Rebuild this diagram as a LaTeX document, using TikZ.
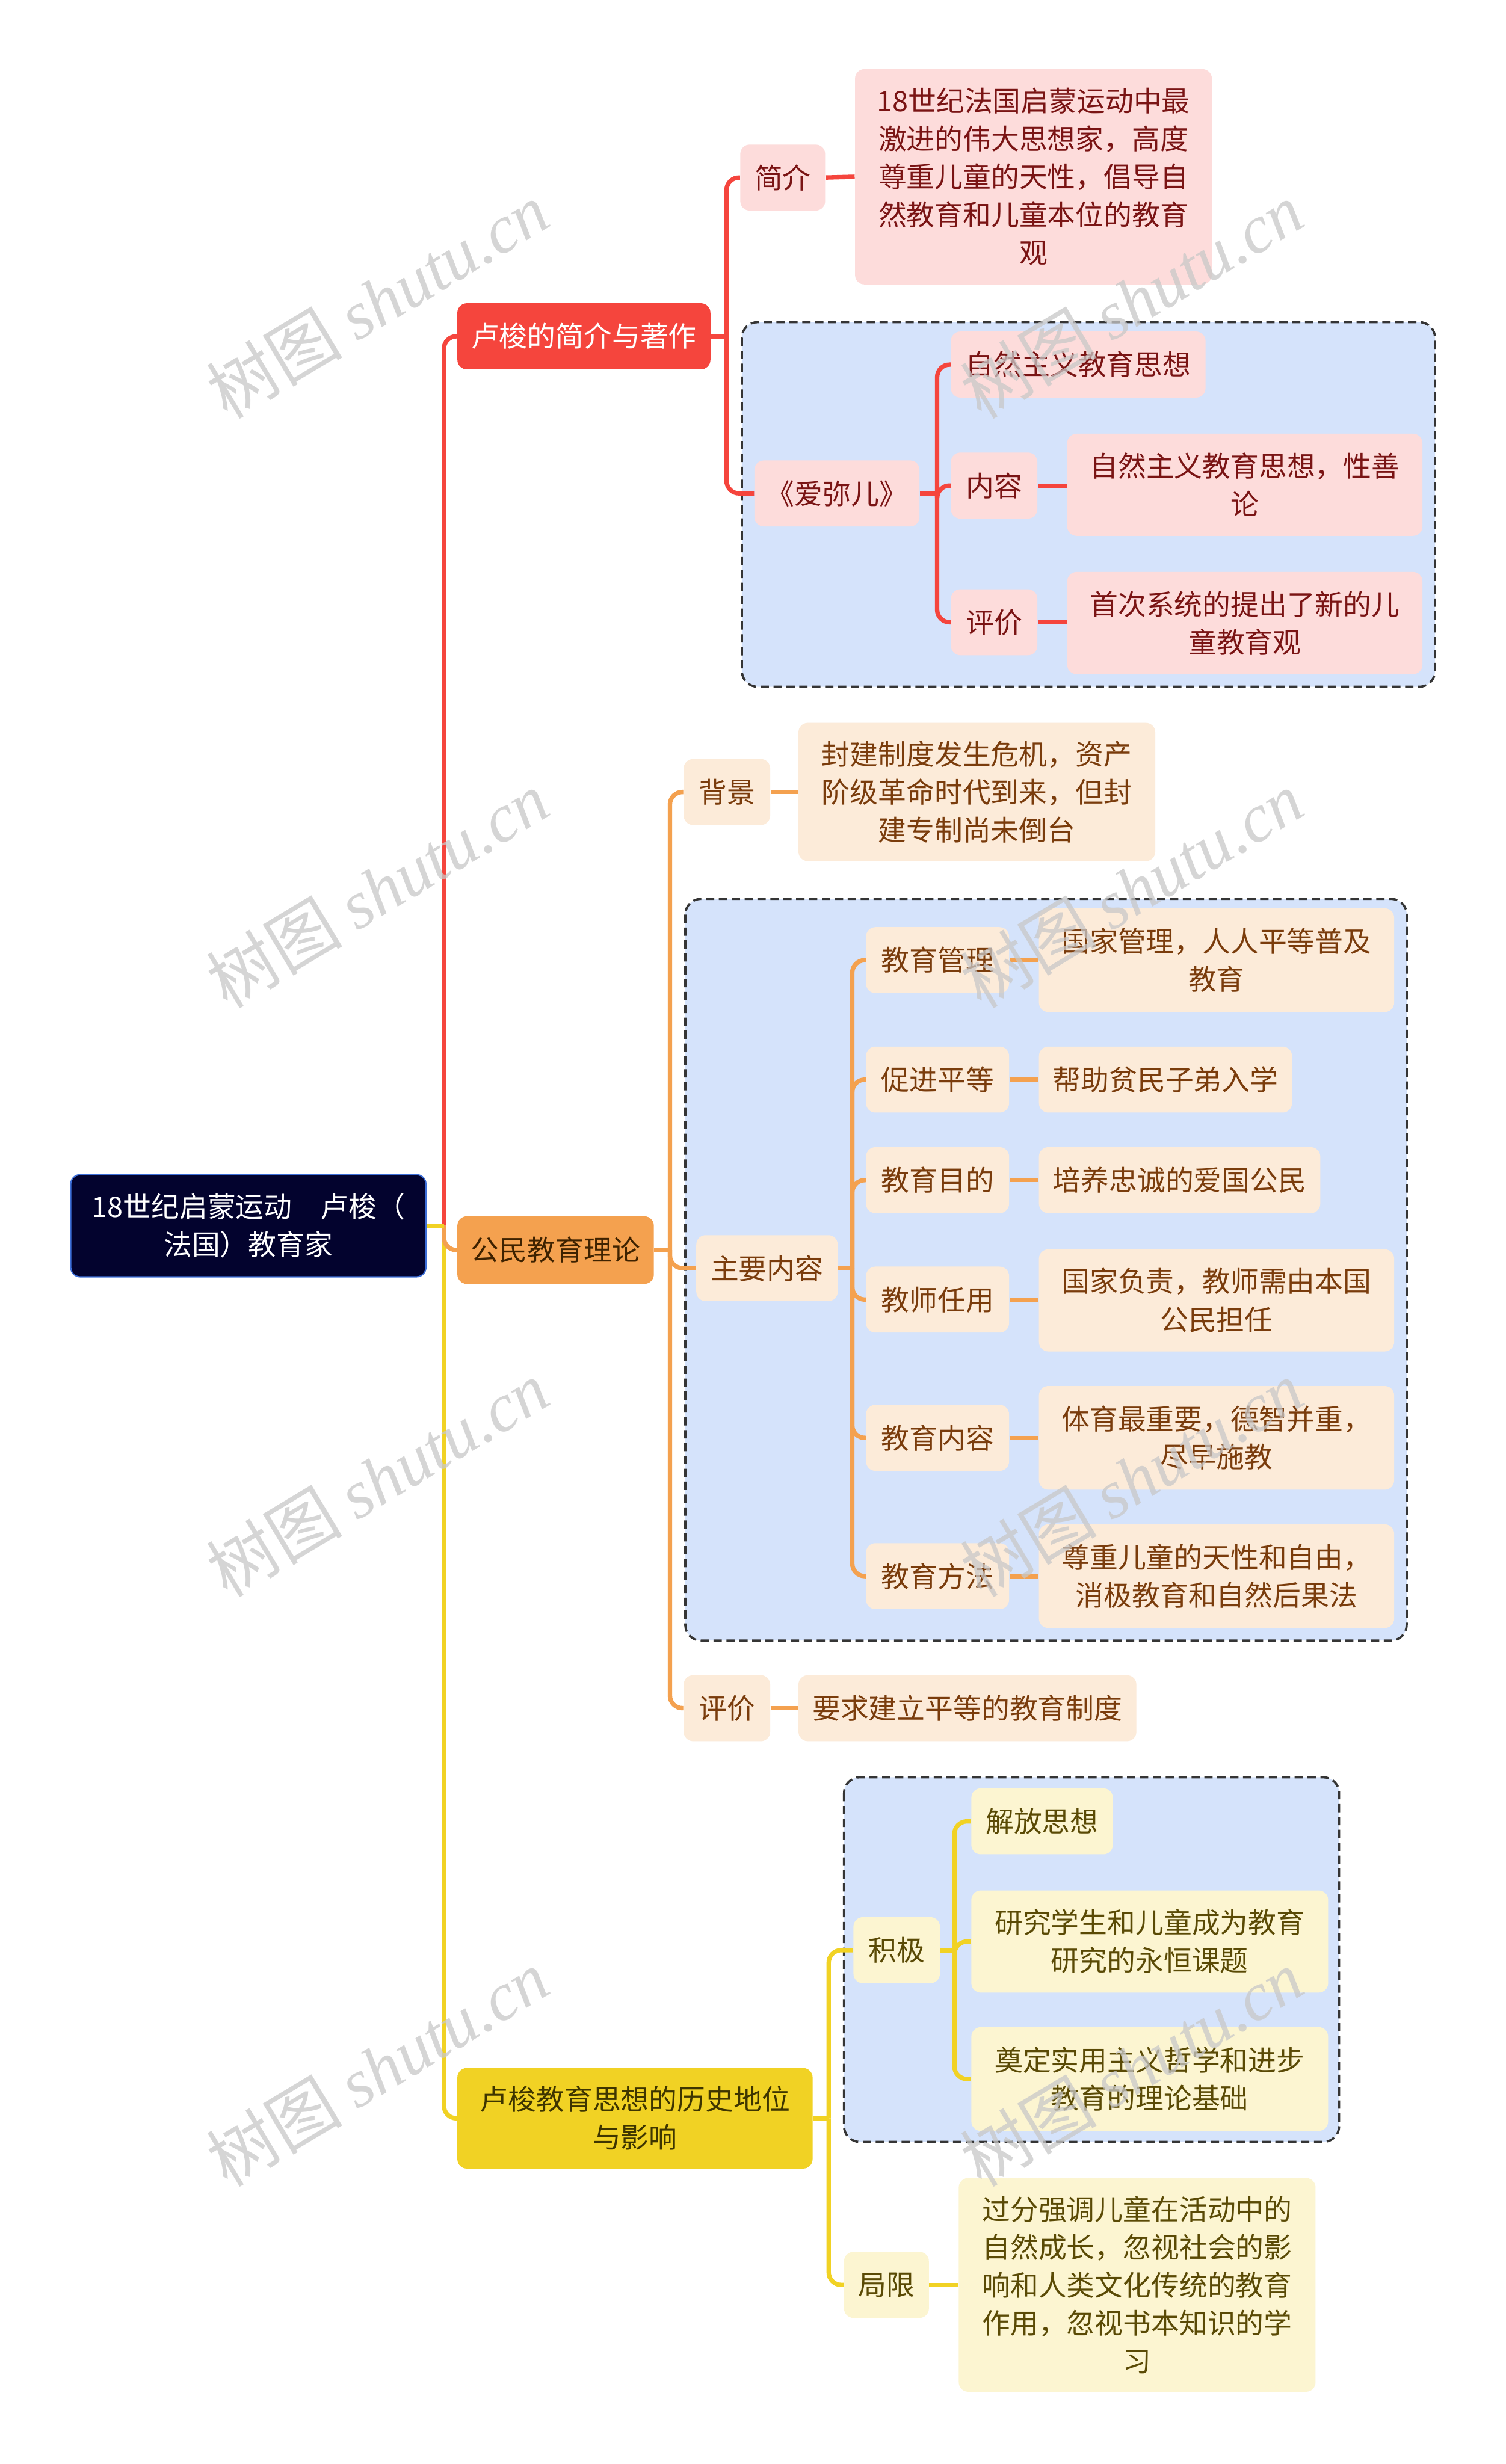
\documentclass[tikz,border=0pt]{standalone}
\usepackage{fontspec}
\setmainfont{Noto Sans CJK SC}
\newfontfamily\wmser{Liberation Serif}
\usetikzlibrary{calc}
\definecolor{rootc}{HTML}{03032E}
\definecolor{rootb}{HTML}{3D6FD8}
\definecolor{redc}{HTML}{F5453D}
\definecolor{pinkc}{HTML}{FDDCDB}
\definecolor{redt}{HTML}{7A1414}
\definecolor{orgc}{HTML}{F4A14F}
\definecolor{orgt}{HTML}{3E2200}
\definecolor{peachc}{HTML}{FCEBD9}
\definecolor{peacht}{HTML}{7A3C0C}
\definecolor{yelc}{HTML}{F1D224}
\definecolor{yelt}{HTML}{3E3500}
\definecolor{lyelc}{HTML}{FCF5D1}
\definecolor{lyelt}{HTML}{5A4A05}
\definecolor{bluec}{HTML}{D5E3FB}
\definecolor{dashc}{HTML}{353535}
\definecolor{wmc}{HTML}{C8C8C8}
\newcommand\myfs{\fontsize{15.3pt}{20.6pt}\selectfont}
\tikzset{
  base/.style={rounded corners=0.18cm, inner sep=0pt, align=center, font=\myfs},
  sz/.style 2 args={minimum width=#1*0.03cm, minimum height=#2*0.03cm},
  rootbox/.style={base, fill=rootc, draw=rootb, line width=0.7pt, text=white},
  redbox/.style={base, fill=redc, text=white},
  pinkbox/.style={base, fill=pinkc, text=redt},
  orgbox/.style={base, fill=orgc, text=orgt},
  peachbox/.style={base, fill=peachc, text=peacht},
  yelbox/.style={base, fill=yelc, text=yelt},
  lyelbox/.style={base, fill=lyelc, text=lyelt},
  grp/.style={fill=bluec, draw=dashc, line width=1.2pt, dash pattern=on 4.5pt off 2.5pt, rounded corners=0.3cm},
  rl/.style={draw=redc, line width=2.4pt},
  ol/.style={draw=orgc, line width=2.4pt},
  yl/.style={draw=yelc, line width=2.4pt},
  elbow/.style={rounded corners=0.24cm},
  wm/.style={text=wmc, opacity=0.75, font=\fontsize{37pt}{37pt}\selectfont, inner sep=0pt}
}
\begin{document}
\begin{tikzpicture}[x=0.03cm, y=-0.03cm]
\fill[white] (0,0) rectangle (958,1568);
\useasboundingbox (0,0) rectangle (958,1568);
% group boxes
\path[grp] (472,205) rectangle (913,437);
\path[grp] (436,572) rectangle (895,1044);
\path[grp] (537,1131) rectangle (852,1363);
% root and level 1
\node[rootbox, sz={226}{65}] (root) at (158,780) {18世纪启蒙运动　卢梭（\\法国）教育家};
\node[redbox, sz={161}{42}] (red) at (371.5,214) {卢梭的简介与著作};
\node[orgbox, sz={125}{43}] (org) at (353.5,795.5) {公民教育理论};
\node[yelbox, sz={226}{64}] (yel) at (404,1348) {卢梭教育思想的历史地位\\与影响};
% red subtree
\node[pinkbox, sz={54}{42}] (jj) at (498,113) {简介};
\node[pinkbox, sz={227}{137}] (jjd) at (657.5,112.5) {18世纪法国启蒙运动中最\\激进的伟大思想家，高度\\尊重儿童的天性，倡导自\\然教育和儿童本位的教育\\观};
\node[pinkbox, sz={105}{42}] (aml) at (532.5,314) {《爱弥儿》};
\node[pinkbox, sz={162}{42}] (zr) at (686,232) {自然主义教育思想};
\node[pinkbox, sz={55}{42}] (nr) at (632.5,309) {内容};
\node[pinkbox, sz={226}{65}] (nrd) at (792,308.5) {自然主义教育思想，性善\\论};
\node[pinkbox, sz={55}{42}] (pja) at (632.5,396) {评价};
\node[pinkbox, sz={226}{65}] (pjad) at (792,396.5) {首次系统的提出了新的儿\\童教育观};
% orange subtree
\node[peachbox, sz={55}{42}] (bj) at (462.5,504) {背景};
\node[peachbox, sz={227}{88}] (bjd) at (621.5,504) {封建制度发生危机，资产\\阶级革命时代到来，但封\\建专制尚未倒台};
\node[peachbox, sz={90}{42}] (zy) at (488,807) {主要内容};
\node[peachbox, sz={91}{42}] (c1) at (596.5,611) {教育管理};
\node[peachbox, sz={226}{66}] (d1) at (774,611) {国家管理，人人平等普及\\教育};
\node[peachbox, sz={91}{42}] (c2) at (596.5,687) {促进平等};
\node[peachbox, sz={161}{42}] (d2) at (741.5,687) {帮助贫民子弟入学};
\node[peachbox, sz={91}{42}] (c3) at (596.5,751) {教育目的};
\node[peachbox, sz={179}{42}] (d3) at (750.5,751) {培养忠诚的爱国公民};
\node[peachbox, sz={91}{42}] (c4) at (596.5,827) {教师任用};
\node[peachbox, sz={226}{65}] (d4) at (774,827.5) {国家负责，教师需由本国\\公民担任};
\node[peachbox, sz={91}{42}] (c5) at (596.5,915) {教育内容};
\node[peachbox, sz={226}{66}] (d5) at (774,915) {体育最重要，德智并重，\\尽早施教};
\node[peachbox, sz={91}{42}] (c6) at (596.5,1003) {教育方法};
\node[peachbox, sz={226}{66}] (d6) at (774,1003) {尊重儿童的天性和自由，\\消极教育和自然后果法};
\node[peachbox, sz={55}{42}] (pjb) at (462.5,1087) {评价};
\node[peachbox, sz={215}{42}] (pjbd) at (615.5,1087) {要求建立平等的教育制度};
% yellow subtree
\node[lyelbox, sz={55}{42}] (jji) at (570.5,1241) {积极};
\node[lyelbox, sz={90}{42}] (y1) at (663,1159) {解放思想};
\node[lyelbox, sz={227}{65}] (y2) at (731.5,1235.5) {研究学生和儿童成为教育\\研究的永恒课题};
\node[lyelbox, sz={227}{66}] (y3) at (731.5,1323) {奠定实用主义哲学和进步\\教育的理论基础};
\node[lyelbox, sz={54}{42}] (jx) at (564,1454) {局限};
\node[lyelbox, sz={227}{136}] (jxd) at (723.5,1454) {过分强调儿童在活动中的\\自然成长，忽视社会的影\\响和人类文化传统的教育\\作用，忽视书本知识的学\\习};
% stubs
\coordinate (s0) at ($(root.east)+(11,0)$);
\coordinate (s1) at ($(red.east)+(10,0)$);
\coordinate (s2) at ($(aml.east)+(11,0)$);
\coordinate (s3) at ($(org.east)+(10,0)$);
\coordinate (s4) at ($(zy.east)+(9,0)$);
\coordinate (s5) at ($(yel.east)+(10,0)$);
\coordinate (s6) at ($(jji.east)+(9,0)$);
% root connectors
\draw[rl, elbow] (s0) |- (red.west);
\draw[yl, elbow] (s0) |- (yel.west);
\draw[ol, elbow] (s0) |- (org.west);
\draw[yl] (root.east) -- (s0);
% red connectors
\draw[rl] (red.east) -- (s1);
\draw[rl, elbow] (s1) |- (jj.west);
\draw[rl, elbow] (s1) |- (aml.west);
\draw[rl] (jj.east) -- (jjd.west);
\draw[rl] (aml.east) -- (s2);
\draw[rl, elbow] (s2) |- (zr.west);
\draw[rl, elbow] (s2) |- (nr.west);
\draw[rl, elbow] (s2) |- (pja.west);
\draw[rl] (nr.east) -- (nr.east -| nrd.west);
\draw[rl] (pja.east) -- (pja.east -| pjad.west);
% orange connectors
\draw[ol] (org.east) -- (s3);
\draw[ol, elbow] (s3) |- (bj.west);
\draw[ol, elbow] (s3) |- (zy.west);
\draw[ol, elbow] (s3) |- (pjb.west);
\draw[ol] (bj.east) -- (bjd.west);
\draw[ol] (pjb.east) -- (pjbd.west);
\draw[ol] (zy.east) -- (s4);
\foreach \i in {1,...,6}{
  \draw[ol, elbow] (s4) |- (c\i.west);
  \draw[ol] (c\i.east) -- (c\i.east -| d\i.west);
}
% yellow connectors
\draw[yl] (yel.east) -- (s5);
\draw[yl, elbow] (s5) |- (jji.west);
\draw[yl, elbow] (s5) |- (jx.west);
\draw[yl] (jji.east) -- (s6);
\draw[yl, elbow] (s6) |- (y1.west);
\draw[yl, elbow] (s6) |- (y2.west);
\draw[yl, elbow] (s6) |- (y3.west);
\draw[yl] (jx.east) -- (jxd.west);
% watermarks
\foreach \n/\px/\py in {wa/240/191, wb/240/566, wc/240/941, wd/240/1316, we/720/191, wf/720/566, wg/720/941, wh/720/1316}{
  \node[wm, rotate=31] (\n) at (\px,\py) {树图 {\wmser\itshape shutu.cn}};
}
\end{tikzpicture}
\end{document}
